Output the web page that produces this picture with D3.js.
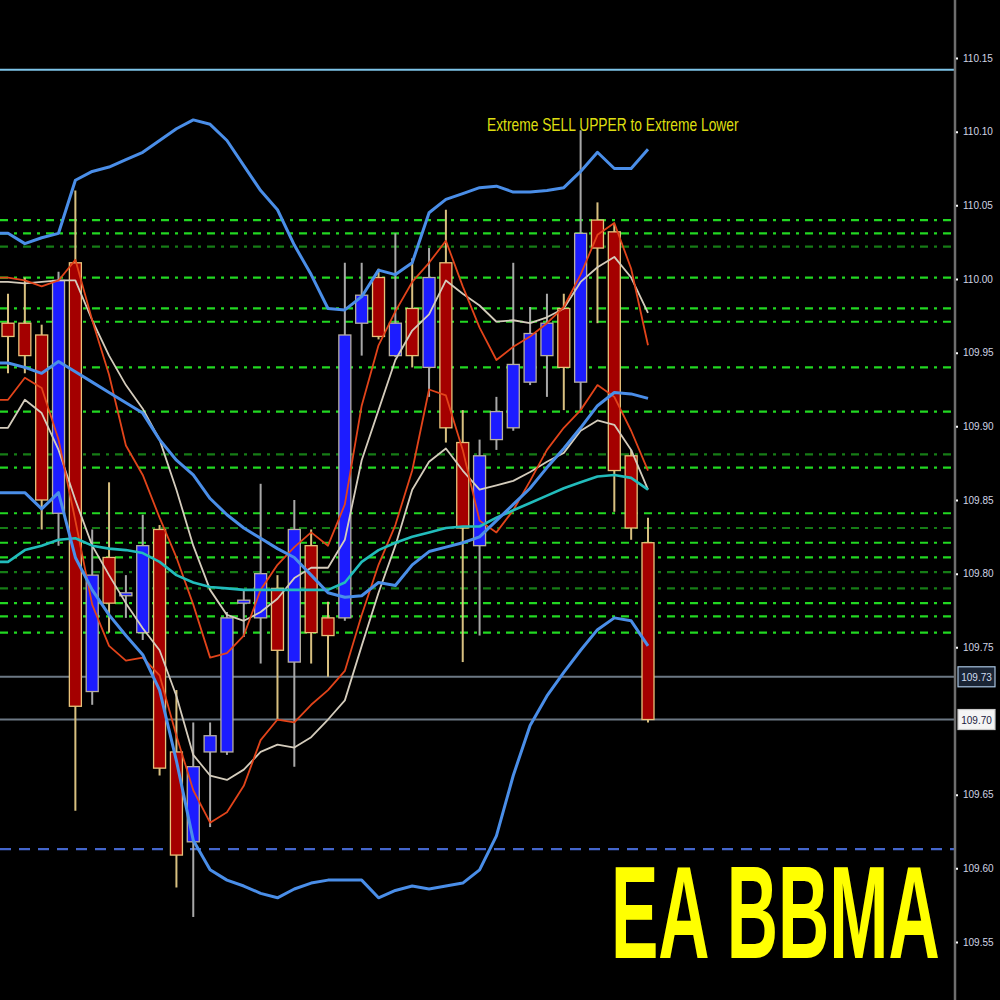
<!DOCTYPE html>
<html><head><meta charset="utf-8">
<script src="https://cdn.jsdelivr.net/npm/d3@7/dist/d3.min.js"></script>
<style>html,body{margin:0;padding:0;background:#000;}svg{display:block;}</style>
</head><body>
<svg id="c" width="1000" height="1000"></svg>
<script>
// ---- DATA ----
// Candles: [open, high, low, close]
const candles = [
 [109.970,109.990,109.936,109.961],[109.970,110.001,109.936,109.948],[109.962,109.969,109.830,109.850],
 [109.841,110.005,109.819,109.999],[110.011,110.060,109.639,109.710],[109.720,109.830,109.711,109.799],
 [109.811,109.862,109.760,109.780],[109.785,109.799,109.770,109.787],[109.760,109.840,109.755,109.819],
 [109.830,109.833,109.663,109.668],[109.679,109.721,109.587,109.609],[109.618,109.699,109.567,109.669],
 [109.679,109.699,109.628,109.690],[109.679,109.774,109.677,109.770],[109.780,109.789,109.757,109.782],
 [109.770,109.861,109.739,109.800],[109.790,109.799,109.701,109.748],[109.740,109.850,109.669,109.830],
 [109.819,109.830,109.739,109.760],[109.770,109.781,109.730,109.758],[109.770,110.011,109.768,109.962],
 [109.970,110.011,109.948,109.989],[110.001,110.007,109.959,109.961],[109.948,110.031,109.947,109.970],
 [109.980,110.014,109.940,109.948],[109.940,110.021,109.920,110.001],[110.011,110.047,109.889,109.899],
 [109.889,109.911,109.740,109.831],[109.819,109.891,109.758,109.880],[109.891,109.920,109.884,109.910],
 [109.899,110.011,109.897,109.942],[109.930,109.981,109.928,109.963],[109.948,109.990,109.920,109.970],
 [109.980,109.990,109.911,109.940],[109.930,110.101,109.911,110.031],[110.040,110.052,109.970,110.021],
 [110.032,110.037,109.842,109.870],[109.880,109.884,109.823,109.831],[109.821,109.838,109.699,109.701]
];
const upperBand = [110.031,110.024,110.028,110.031,110.067,110.073,110.076,110.081,110.086,110.094,110.102,110.108,110.105,110.094,110.077,110.060,110.047,110.023,110.003,109.980,109.979,109.988,110.006,110.003,110.011,110.045,110.054,110.058,110.062,110.063,110.059,110.059,110.060,110.062,110.073,110.086,110.075,110.075,110.088];
const middleBand = [109.943,109.940,109.936,109.944,109.937,109.930,109.923,109.916,109.909,109.891,109.877,109.867,109.851,109.840,109.831,109.824,109.817,109.811,109.799,109.787,109.784,109.785,109.794,109.792,109.806,109.815,109.818,109.821,109.825,109.836,109.847,109.858,109.872,109.885,109.899,109.914,109.923,109.922,109.919];
const lowerBand = [109.855,109.855,109.844,109.855,109.811,109.789,109.772,109.758,109.745,109.721,109.673,109.619,109.599,109.592,109.588,109.583,109.580,109.586,109.590,109.592,109.592,109.592,109.580,109.585,109.588,109.586,109.588,109.590,109.599,109.622,109.663,109.697,109.717,109.733,109.748,109.762,109.770,109.768,109.751];
const cyanMA = [109.808,109.816,109.819,109.823,109.824,109.819,109.817,109.816,109.814,109.808,109.799,109.794,109.791,109.790,109.789,109.789,109.789,109.789,109.789,109.789,109.794,109.808,109.816,109.821,109.825,109.828,109.831,109.832,109.832,109.838,109.843,109.848,109.853,109.858,109.862,109.866,109.867,109.865,109.857];
const redFast = [110.001,109.999,109.995,109.999,110.013,109.972,109.935,109.887,109.867,109.838,109.811,109.779,109.743,109.746,109.758,109.789,109.806,109.818,109.828,109.819,109.847,109.914,109.955,109.978,109.998,110.011,110.026,109.995,109.967,109.945,109.954,109.961,109.970,109.981,110.003,110.030,110.038,110.007,109.955];
const redSlow = [109.918,109.933,109.926,109.891,109.836,109.779,109.751,109.741,109.743,109.731,109.690,109.653,109.631,109.638,109.656,109.687,109.701,109.699,109.711,109.721,109.734,109.772,109.806,109.833,109.870,109.925,109.921,109.884,109.836,109.828,109.843,109.863,109.884,109.899,109.911,109.928,109.920,109.897,109.870];
const greyFast = [109.998,109.997,109.998,109.999,109.999,109.972,109.948,109.928,109.912,109.891,109.857,109.819,109.789,109.772,109.768,109.774,109.783,109.797,109.804,109.804,109.823,109.877,109.911,109.945,109.965,109.976,109.999,109.990,109.982,109.971,109.972,109.970,109.974,109.980,109.998,110.008,110.015,110.001,109.977];
const greySlow = [109.899,109.918,109.909,109.884,109.850,109.819,109.799,109.780,109.763,109.748,109.717,109.677,109.663,109.660,109.667,109.679,109.684,109.682,109.689,109.701,109.714,109.751,109.787,109.819,109.857,109.876,109.885,109.870,109.857,109.860,109.863,109.869,109.876,109.882,109.897,109.904,109.901,109.884,109.857];
const levelsBright = [110.040,110.031,110.001,109.980,109.971,109.940,109.910,109.872,109.841,109.821,109.811,109.780,109.771,109.760];
const levelsDim = [110.022,109.881,109.831,109.801,109.790];
const topLine = 110.142;
const priceLines = [109.730,109.701];
const dashedLine = 109.613;
const tickLabels = ["110.15","110.10","110.05","110.00","109.95","109.90","109.85","109.80","109.75","109.65","109.60","109.55"];
const boxLabels = ["109.73","109.70"];
const annotation = "Extreme SELL UPPER to Extreme Lower";
const title = "EA BBMA";

// ---- DRAW ----
const svg = d3.select("#c");
svg.append("rect").attr("width",1000).attr("height",1000).attr("fill","#000");
const y = d3.scaleLinear().domain([109.55,110.15]).range([942,58]);
const x = d3.scaleLinear().domain([0,38]).range([8,648]);
const axisX = 955;

// green levels
function level(v, col, op){
  svg.append("line").attr("x1",0).attr("x2",axisX).attr("y1",y(v)).attr("y2",y(v))
    .attr("stroke",col).attr("stroke-width",2.2).attr("opacity",op)
    .attr("stroke-dasharray","8,6,3,6");
}
levelsBright.forEach(v=>level(v,"#22d822",1));
levelsDim.forEach(v=>level(v,"#1c9c1c",0.8));

// horizontal lines
svg.append("line").attr("x1",0).attr("x2",axisX).attr("y1",y(topLine)).attr("y2",y(topLine))
  .attr("stroke","#7ec4e8").attr("stroke-width",2);
priceLines.forEach(v=>svg.append("line").attr("x1",0).attr("x2",axisX).attr("y1",y(v)).attr("y2",y(v))
  .attr("stroke","#6c7884").attr("stroke-width",2));
svg.append("line").attr("x1",0).attr("x2",axisX).attr("y1",y(dashedLine)).attr("y2",y(dashedLine))
  .attr("stroke","#4466cc").attr("stroke-width",2.2).attr("stroke-dasharray","11,8");

// candles
const bw = 12;
const cg = svg.append("g");
candles.forEach((d,i)=>{
  const [o,h,l,c] = d;
  const bull = c >= o;
  cg.append("line").attr("x1",x(i)).attr("x2",x(i)).attr("y1",y(h)).attr("y2",y(l))
    .attr("stroke", bull ? "#a8a8a8" : "#d8c080").attr("stroke-width",2);
  const top = y(Math.max(o,c)), bot = y(Math.min(o,c));
  cg.append("rect").attr("x",x(i)-bw/2).attr("y",top).attr("width",bw).attr("height",Math.max(bot-top,2))
    .attr("fill", bull ? "#1c1cff" : "#a40000")
    .attr("stroke", bull ? "#b8b0a0" : "#e8c27a").attr("stroke-width",1.3);
});

// indicator lines
function series(arr, col, w, dash){
  const pts = [[-0.48, arr[0]]].concat(arr.map((v,i)=>[i,v]));
  const ln = d3.line().x(p=>x(p[0])).y(p=>y(p[1])).curve(d3.curveLinear);
  const p = svg.append("path").attr("d",ln(pts)).attr("fill","none")
    .attr("stroke",col).attr("stroke-width",w).attr("stroke-linejoin","round");
  if(dash) p.attr("stroke-dasharray",dash);
}
series(greySlow,"#d4ccbc",1.8);
series(greyFast,"#d4ccbc",1.8);
series(redSlow,"#e2441a",1.8);
series(redFast,"#e2441a",1.8);
series(cyanMA,"#22bcbc",2.6);
series(lowerBand,"#4a8ee8",3);
series(middleBand,"#4a8ee8",3);
series(upperBand,"#4a8ee8",3);

// axis
svg.append("line").attr("x1",axisX).attr("x2",axisX).attr("y1",0).attr("y2",1000)
  .attr("stroke","#6e6e6e").attr("stroke-width",2.5);
const ax = d3.axisRight(y).tickValues(tickLabels.map(Number)).tickFormat(d3.format(".2f")).tickSize(2).tickPadding(5);
const ag = svg.append("g").attr("transform",`translate(${axisX+1},0)`).call(ax);
ag.select(".domain").remove();
ag.selectAll(".tick line").attr("stroke","#ffffff").attr("stroke-width",2);
ag.selectAll(".tick text").attr("fill","#d0d4e4").attr("font-family","Liberation Sans, Arial, sans-serif")
  .attr("font-size",10);

// price boxes
boxLabels.forEach((t,i)=>{
  const v = priceLines[i];
  const g = svg.append("g");
  g.append("rect").attr("x",958).attr("y",y(v)-10).attr("width",37).attr("height",20)
    .attr("fill", i===0 ? "#1a2434" : "#f4f4f4").attr("stroke", i===0 ? "#a8c4e0" : "#c8c8c8").attr("stroke-width",1.2);
  g.append("text").attr("x",976.5).attr("y",y(v)+4).attr("text-anchor","middle")
    .attr("font-family","Liberation Sans, Arial, sans-serif").attr("font-size",10)
    .attr("fill", i===0 ? "#d0dcf0" : "#202040").text(t);
});

// annotation (narrow, tall lettering via vertical scale)
svg.append("text").attr("transform","translate(487,131) scale(1,1.35)").attr("fill","#dede10")
  .attr("font-family","Liberation Sans, Arial, sans-serif").attr("font-size",13.8)
  .text(annotation);

// title (condensed bold lettering via vertical scale)
svg.append("text").attr("transform","translate(611,958) scale(1,1.86)").attr("fill","#ffff00")
  .attr("font-family","Liberation Sans, Arial, sans-serif").attr("font-weight","bold")
  .attr("font-size",71).text(title);
</script>
</body></html>
